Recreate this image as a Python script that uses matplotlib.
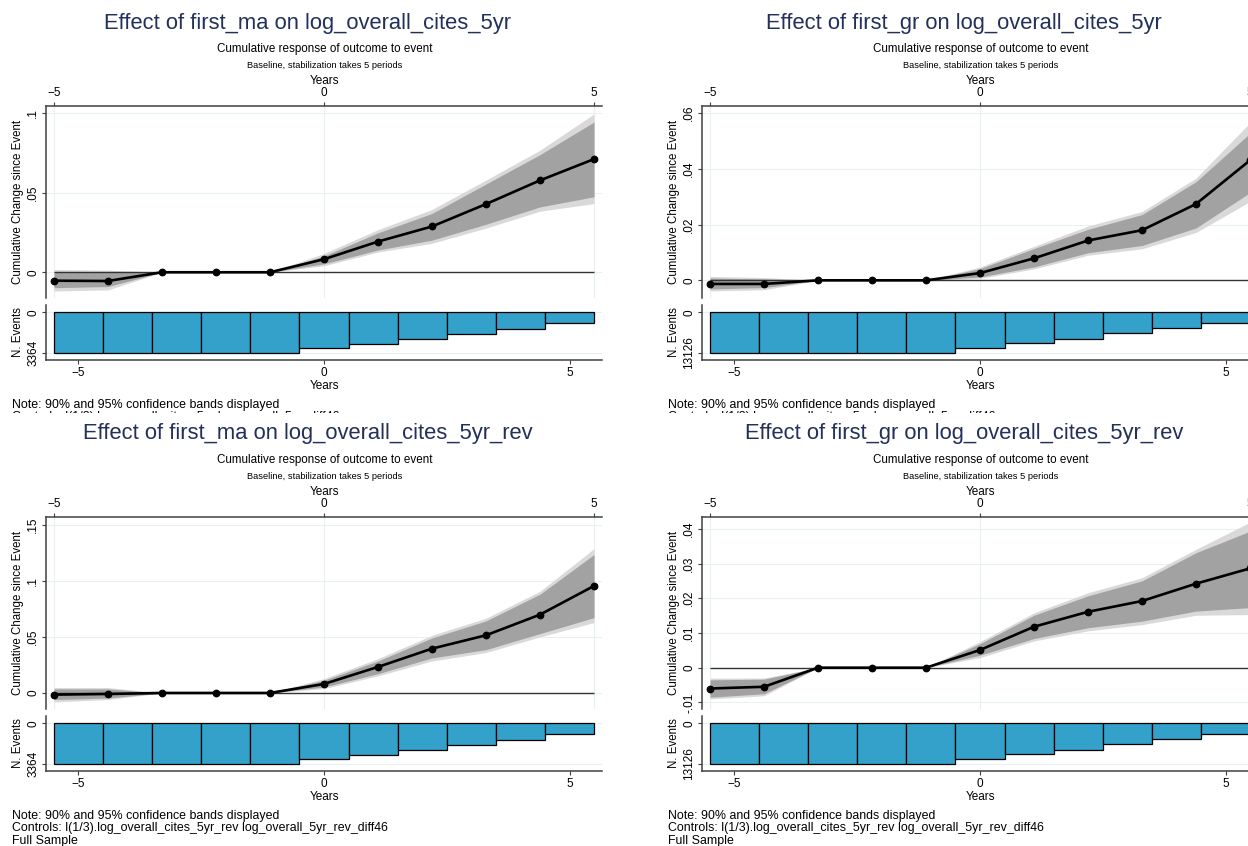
import numpy as np
import matplotlib
matplotlib.use('Agg')
import matplotlib.pyplot as plt
from matplotlib.transforms import Bbox, TransformedBbox

plt.rcParams['font.family'] = ['Liberation Sans', 'DejaVu Sans']

W, H = 1248, 846

years = [-5, -4, -3, -2, -1, 0, 1, 2, 3, 4, 5]

#%% first_ma on log_overall_cites_5yr
ma5_est  = [-0.0053, -0.0055, 0, 0, 0, 0.0082, 0.0193, 0.0288, 0.0429, 0.0578, 0.0712]
ma5_hi95 = [0.0017, 0.0013, 0, 0, 0, 0.0118, 0.0268, 0.0395, 0.0580, 0.0768, 0.0996]
ma5_hi90 = [0.0002, 0.0001, 0, 0, 0, 0.0102, 0.0248, 0.0370, 0.0555, 0.0740, 0.0945]
ma5_lo90 = [-0.0097, -0.0090, 0, 0, 0, 0.0053, 0.0140, 0.0202, 0.0302, 0.0411, 0.0475]
ma5_lo95 = [-0.0118, -0.0111, 0, 0, 0, 0.0041, 0.0127, 0.0182, 0.0278, 0.0384, 0.0432]

#%% first_gr on log_overall_cites_5yr
gr5_est  = [-0.0013, -0.0013, 0, 0, 0, 0.0026, 0.0079, 0.0143, 0.0180, 0.0274, 0.0431]
gr5_hi95 = [0.0014, 0.0010, 0, 0, 0, 0.0048, 0.0122, 0.0195, 0.0247, 0.0367, 0.0566]
gr5_hi90 = [0.0008, 0.0005, 0, 0, 0, 0.0042, 0.0114, 0.0183, 0.0236, 0.0354, 0.0528]
gr5_lo90 = [-0.0031, -0.0026, 0, 0, 0, 0.0012, 0.0048, 0.0099, 0.0125, 0.0188, 0.0315]
gr5_lo95 = [-0.0038, -0.0034, 0, 0, 0, 0.0007, 0.0041, 0.0090, 0.0113, 0.0172, 0.0283]

#%% first_ma on log_overall_cites_5yr_rev
mar_est  = [-0.0015, -0.0009, 0, 0, 0, 0.0080, 0.0232, 0.0395, 0.0514, 0.0698, 0.0954]
mar_hi95 = [0.0048, 0.0048, 0, 0, 0, 0.0128, 0.0306, 0.0514, 0.0666, 0.0906, 0.1286]
mar_hi90 = [0.0036, 0.0036, 0, 0, 0, 0.0113, 0.0285, 0.0490, 0.0642, 0.0880, 0.1233]
mar_lo90 = [-0.0059, -0.0045, 0, 0, 0, 0.0053, 0.0172, 0.0312, 0.0386, 0.0529, 0.0671]
mar_lo95 = [-0.0080, -0.0059, 0, 0, 0, 0.0039, 0.0152, 0.0285, 0.0360, 0.0500, 0.0627]

#%% first_gr on log_overall_cites_5yr_rev
grr_est  = [-0.0060, -0.0055, 0, 0, 0, 0.0051, 0.0118, 0.0161, 0.0192, 0.0242, 0.0286]
grr_hi95 = [-0.0030, -0.0030, 0, 0, 0, 0.0075, 0.0158, 0.0216, 0.0259, 0.0341, 0.0419]
grr_hi90 = [-0.0035, -0.0033, 0, 0, 0, 0.0069, 0.0151, 0.0207, 0.0250, 0.0331, 0.0393]
grr_lo90 = [-0.0085, -0.0075, 0, 0, 0, 0.0036, 0.0084, 0.0115, 0.0134, 0.0163, 0.0173]
grr_lo95 = [-0.0090, -0.0081, 0, 0, 0, 0.0029, 0.0077, 0.0106, 0.0124, 0.0151, 0.0153]

# cumulative number of events per year
ma_events = [3364, 3364, 3364, 3364, 3364, 3010, 2600, 2240, 1840, 1400, 870]
gr_events = [13126, 13126, 13126, 13126, 13126, 11720, 10090, 8570, 6840, 5090, 3360]

navy = '#22305a'
band95 = '#d9d9d9'
band90 = '#a2a2a2'
barblue = '#33a1c9'
gridc = '#e8f0f2'
axc = '#404040'

fig = plt.figure(figsize=(W/100, H/100), dpi=100)
fig.patch.set_facecolor('white')


def px_axes(x0, y0, x1, y1):
    return fig.add_axes([x0/W, 1 - y1/H, (x1 - x0)/W, (y1 - y0)/H])


def ftext(x, y, s, **kw):
    return fig.text(x/W, 1 - y/H, s, **kw)


def style(ax):
    for s in ax.spines.values():
        s.set_color(axc)
        s.set_linewidth(1.1)
    ax.tick_params(colors=axc, labelcolor='black', labelsize=8.5, length=3, width=0.8, pad=2)


def panel(dx, dy, title, est, lo90, hi90, lo95, hi95, ylim, yticks, ylabels,
          events, controls, cut=False):
    ax = px_axes(46 + dx, 106 + dy, 602 + dx, 298 + dy)
    ax.fill_between(years, lo95, hi95, color=band95, lw=0)
    ax.fill_between(years, lo90, hi90, color=band90, lw=0)
    ax.hlines(0, years[0], years[-1], color='#333333', lw=1.0)
    ax.plot(years, est, color='black', lw=1.9, marker='o', ms=4.6)
    ax.set_xlim(-5.148, 5.148)
    ax.set_ylim(*ylim)
    ax.set_xticks([-5, 0, 5])
    ax.xaxis.tick_top()
    ax.xaxis.set_label_position('top')
    ax.set_xlabel('Years', fontsize=8.5, labelpad=2)
    ax.set_yticks(yticks, ylabels, rotation=90, va='center')
    ax.set_ylabel('Cumulative Change since Event', fontsize=8.3, labelpad=2)
    ax.grid(True, color=gridc, lw=0.8)
    ax.set_axisbelow(True)
    ax.spines['right'].set_visible(False)
    ax.spines['bottom'].set_visible(False)
    style(ax)

    n = events[0]
    ax2 = px_axes(46 + dx, 305 + dy, 602 + dx, 360 + dy)
    ax2.bar(years, events, width=1.0, color=barblue, edgecolor='black', lw=0.9)
    ax2.set_xlim(-5.655, 5.655)
    ax2.set_ylim(n*1.181, -n*0.181)
    ax2.set_xticks([-5, 0, 5])
    ax2.set_xlabel('Years', fontsize=8.5, labelpad=1)
    ax2.set_yticks([0, n], ['0', str(n)], rotation=90, va='center')
    ax2.set_ylabel('N. Events', fontsize=8.3, labelpad=2)
    ax2.yaxis.grid(True, color=gridc, lw=0.8)
    ax2.set_axisbelow(True)
    ax2.spines['right'].set_visible(False)
    ax2.spines['top'].set_visible(False)
    style(ax2)

    ftext(308 + dx, 23 + dy, title, fontsize=15.8, color=navy, ha='center', va='center')
    ftext(325 + dx, 49 + dy, 'Cumulative response of outcome to event', fontsize=8.4,
          ha='center', va='center')
    ftext(325 + dx, 65 + dy, 'Baseline, stabilization takes 5 periods', fontsize=6.7,
          ha='center', va='center')

    notes = ['Note: 90% and 95% confidence bands displayed', controls, 'Full Sample']
    for k, line in enumerate(notes):
        t = ftext(12 + dx, 405 + dy + 12.4*k, line, fontsize=8.9, ha='left', va='center')
        if cut:
            t.set_clip_on(True)
            t.set_clip_box(TransformedBbox(Bbox([[0, 1 - 413/H], [1, 1]]), fig.transFigure))


ctrl5 = 'Controls: l(1/3).log_overall_cites_5yr log_overall_5yr_diff46'
ctrlr = 'Controls: l(1/3).log_overall_cites_5yr_rev log_overall_5yr_rev_diff46'

panel(0, 0, 'Effect of first_ma on log_overall_cites_5yr',
      ma5_est, ma5_lo90, ma5_hi90, ma5_lo95, ma5_hi95,
      (-0.0162, 0.1046), [0, 0.05, 0.1], ['0', '.05', '.1'],
      ma_events, ctrl5, cut=True)
panel(656, 0, 'Effect of first_gr on log_overall_cites_5yr',
      gr5_est, gr5_lo90, gr5_hi90, gr5_lo95, gr5_hi95,
      (-0.00635, 0.0626), [0, 0.02, 0.04, 0.06], ['0', '.02', '.04', '.06'],
      gr_events, ctrl5, cut=True)
panel(0, 411, 'Effect of first_ma on log_overall_cites_5yr_rev',
      mar_est, mar_lo90, mar_hi90, mar_lo95, mar_hi95,
      (-0.0143, 0.1568), [0, 0.05, 0.1, 0.15], ['0', '.05', '.1', '.15'],
      ma_events, ctrlr)
panel(656, 411, 'Effect of first_gr on log_overall_cites_5yr_rev',
      grr_est, grr_lo90, grr_hi90, grr_lo95, grr_hi95,
      (-0.0119, 0.0434), [-0.01, 0, 0.01, 0.02, 0.03, 0.04],
      ['-.01', '0', '.01', '.02', '.03', '.04'],
      gr_events, ctrlr)

fig.savefig('out.png', dpi=100)
